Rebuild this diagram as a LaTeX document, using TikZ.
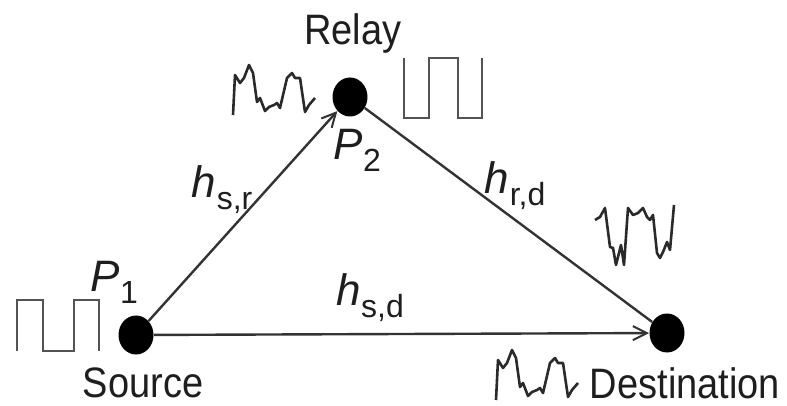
\documentclass[tikz,border=0pt]{standalone}
\usepackage{fontspec}
\setmainfont{Liberation Sans}
\usetikzlibrary{arrows.meta,shapes.geometric}
\definecolor{ink}{HTML}{1E1E1E}
\definecolor{wire}{HTML}{333333}
\definecolor{wave}{HTML}{2A2A2A}
\newcommand{\chlab}[2]{{\fontsize{22}{22}\selectfont\itshape #1}\hspace{0.3pt}\raisebox{-6pt}{\fontsize{16}{16}\selectfont #2}}
\newcommand{\bigtxt}[1]{\scalebox{1}[1.12]{\fontsize{19}{19}\selectfont #1}}
\begin{document}
\begin{tikzpicture}[x=0.5pt,y=-0.5pt,
  dot/.style={ellipse,fill=black,draw=none,minimum width=17.5pt,minimum height=19.5pt,inner sep=0pt},
  wirel/.style={draw=wire,line width=1.2pt},
  arr/.style={-{Straight Barb[length=7pt,width=7pt,line width=1pt]}},
  wavel/.style={draw=wave,line width=1.3pt,line join=round},
  sqwave/.style={draw=gray!65!black,line width=1.1pt},
  lab/.style={text=ink,inner sep=0pt}]
\useasboundingbox (0,0) rectangle (787,406);
\fill[white] (0,0) rectangle (787,406);

% nodes
\node[dot] (src) at (136,335) {};
\node[dot] (rel) at (350,97) {};
\node[dot] (dst) at (667,333) {};

% connectors
\draw[wirel,arr] (src) -- (rel);
\draw[wirel] (rel) -- (dst);
\draw[wirel,arr] (src) -- (dst);

% labels
\node[lab] (tsrc) at (143,383) {\bigtxt{Source}};
\node[lab] (trel) at (353,33) {\bigtxt{Relay}};
\node[lab] (tdst) at (685,383) {\bigtxt{Destination}};
\node[lab] (p1) at (114,282) {\chlab{P}{1}};
\node[lab] (p2) at (357,150) {\chlab{P}{2}};
\node[lab] (hsr) at (222,190) {\chlab{h}{s,r}};
\node[lab] (hrd) at (515,186) {\chlab{h}{r,d}};
\node[lab] (hsd) at (370,298) {\chlab{h}{s,d}};

% square waves
\draw[sqwave] (17,351)--(17,300)--(43,300)--(43,351)--(74,351)--(74,300)--(99,300)--(99,351);
\draw[sqwave] (404,58)--(404,118)--(429,118)--(429,58)--(458,58)--(458,118)--(482,118)--(482,58);

% noisy waves
\foreach \ox/\oy in {233/65, 496/350}{
\draw[wavel,shift={(\ox,\oy)}] (0,50)--(2,10)--(7,18)--(11,13)--(16,0)--(20,8)--(24,37)--(27,33)--(32,46)--(36,42)--(41,40)--(44,38)--(47,43)--(54,13)--(59,8)--(62,13)--(67,13)--(72,47)--(76,40)--(82,33);
}
\draw[wavel] (595,220)--(600,217)--(605,208)--(610,247)--(613,248)--(616,265)--(621,245)--(624,265)--(628,208)--(633,215)--(638,213)--(643,208)--(647,217)--(650,220)--(653,215)--(657,253)--(660,258)--(663,252)--(667,242)--(670,250)--(674,205);
\end{tikzpicture}
\end{document}
